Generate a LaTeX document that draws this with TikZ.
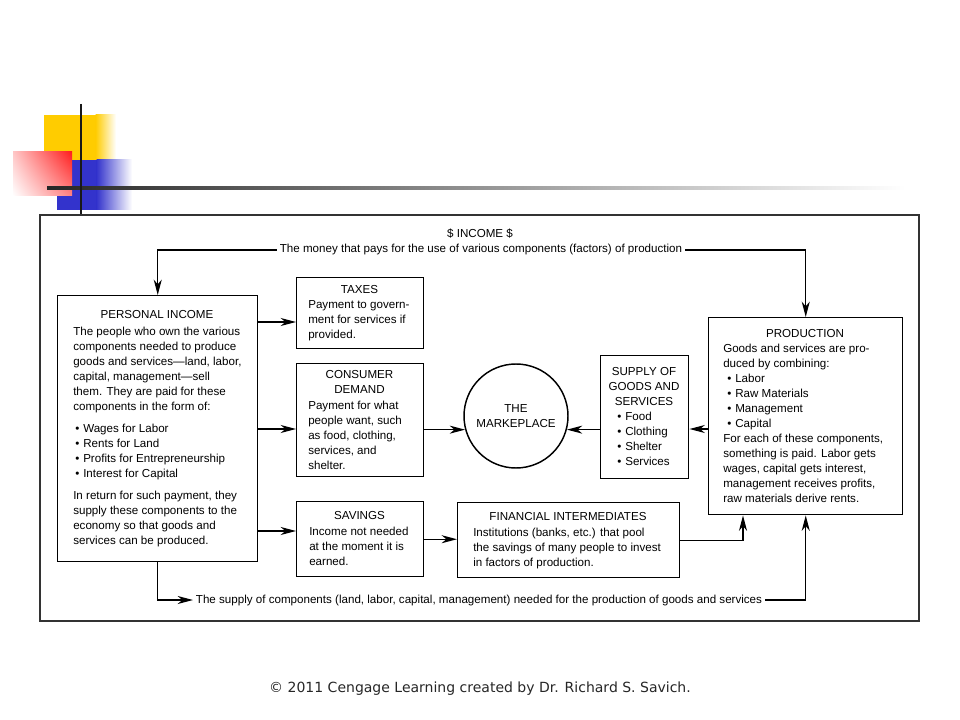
\documentclass[tikz,border=0pt]{standalone}
\usepackage{fontspec}
\setmainfont{Liberation Sans}
\newfontfamily\cpfont{DejaVu Sans}
\usetikzlibrary{arrows.meta,shadings}
\definecolor{yelc}{RGB}{255,204,0}
\definecolor{bluc}{RGB}{51,51,204}
\definecolor{redc}{RGB}{255,30,30}
\newcommand\pibul{\hspace*{1.5pt}\makebox[6pt][l]{•}}
\newcommand\prbul{\hspace*{3pt}\makebox[6pt][l]{•}}
\newcommand\spbul{\makebox[6pt][l]{•}}
\begin{document}
\begin{tikzpicture}[x=0.75pt,y=-0.75pt,
  box/.style={draw=black, line width=1.1pt, rectangle, inner sep=0pt, anchor=north west},
  txt/.style={inner sep=0pt, font=\fontsize{8.7pt}{11.25pt}\selectfont},
  ttl/.style={txt, anchor=base, align=center},
  body/.style={txt, anchor=base west, align=left},
  arr/.style={line width=1.1pt, -{Stealth[length=11.5pt,width=6pt,inset=3.5pt]}},
]
\useasboundingbox (0,0) rectangle (960,720);
% decoration
\fill[yelc] (44,115) rectangle (96,160);
\shade[left color=yelc, right color=white] (95.5,115) rectangle (116,160);
\fill[bluc] (57,160) rectangle (97,210);
\shade[left color=bluc, right color=white] (96.5,160) rectangle (132,210);
\shade[upper right=redc, lower right=redc!55, upper left=redc!25, lower left=white] (13,152) rectangle (72,196);
\shade[left color=black!85, middle color=black!40, right color=white] (47,186.5) rectangle (905,189.5);
\draw[line width=2.2pt, black!90] (81,104) -- (81,214);
% frame
\draw[black!80, line width=1.1pt] (40,215) rectangle (919,621);

% boxes
\node[box, minimum width=150pt, minimum height=199.5pt] (pi) at (57,295) {};
\node[box, minimum width=95.25pt, minimum height=53.25pt] (tax) at (296,277) {};
\node[box, minimum width=95.25pt, minimum height=84.75pt] (cd) at (296,363) {};
\node[box, minimum width=95.25pt, minimum height=56.25pt] (sav) at (296,501) {};
\node[box, minimum width=166.5pt, minimum height=56.25pt] (fi) at (457,502) {};
\node[box, minimum width=66pt, minimum height=92.25pt] (sup) at (600,355) {};
\node[box, minimum width=145.5pt, minimum height=147.75pt] (prod) at (708,317) {};
\node[draw=black, line width=1.1pt, circle, minimum size=78pt, inner sep=0pt, align=center,
      font=\fontsize{8.7pt}{11.25pt}\selectfont] (mkt) at (516,416) {THE\\MARKEPLACE};

% texts (anchor = baseline of the last line)
\node[ttl] (pit) at (157,319) {PERSONAL INCOME};
\node[body] (pib) at (73,544) {The people who own the various\\
components needed to produce\\
goods and services—land, labor,\\
capital, management—sell\\
them. They are paid for these\\
components in the form of:\\[5.25pt]
\pibul Wages for Labor\\
\pibul Rents for Land\\
\pibul Profits for Entrepreneurship\\
\pibul Interest for Capital\\[5.25pt]
In return for such payment, they\\
supply these components to the\\
economy so that goods and\\
services can be produced.};

\node[ttl] (taxt) at (359.5,294) {TAXES};
\node[body] (taxb) at (308,339) {Payment to govern-\\ment for services if\\provided.};

\node[ttl] (cdt) at (359.5,393) {CONSUMER\\DEMAND};
\node[body] (cdb) at (308,469) {Payment for what\\people want, such\\as food, clothing,\\services, and\\shelter.};

\node[ttl] (savt) at (359.5,519) {SAVINGS};
\node[body] (savb) at (309,565) {Income not needed\\at the moment it is\\earned.};

\node[ttl] (fit) at (568,520) {FINANCIAL INTERMEDIATES};
\node[body] (fib) at (473,566) {Institutions (banks, etc.) that pool\\the savings of many people to invest\\in factors of production.};

\node[ttl] (supt) at (644,405) {SUPPLY OF\\GOODS AND\\SERVICES};
\node[body] (supb) at (617,465) {\spbul Food\\\spbul Clothing\\\spbul Shelter\\\spbul Services};

\node[ttl] (prt) at (805,337) {PRODUCTION};
\node[body] (prb) at (723,502) {Goods and services are pro-\\
duced by combining:\\
\prbul Labor\\
\prbul Raw Materials\\
\prbul Management\\
\prbul Capital\\
For each of these components,\\
something is paid. Labor gets\\
wages, capital gets interest,\\
management receives profits,\\
raw materials derive rents.};

\node[ttl] (inc) at (480,238) {\$ INCOME \$};
\node[txt, anchor=base, inner xsep=2pt] (money) at (481,253) {The money that pays for the use of various components (factors) of production};
\node[txt, anchor=base, inner xsep=2pt] (suptxt) at (479,603) {The supply of components (land, labor, capital, management) needed for the production of goods and services};

\node[font=\cpfont\fontsize{10.5pt}{12pt}\selectfont, text=black!85, inner sep=0pt] (copy) at (480,689) {© 2011 Cengage Learning created by Dr. Richard S. Savich.};

% helper coordinates
\coordinate (ty) at (0,322);
\coordinate (cy) at (0,429);
\coordinate (sy) at (0,531);
\coordinate (fx) at (743,0);

% connectors
\draw[arr] (money.west) -| (pi.north);
\draw[arr] (money.east) -| (prod.north);
\draw[arr] (pi.south) |- (suptxt.west);
\draw[arr] (suptxt.east) -| (prod.south);
\draw[arr] (pi.east |- ty) -- (tax.west |- ty);
\draw[arr] (pi.east |- cy) -- (cd.west |- cy);
\draw[arr] (pi.east |- sy) -- (sav.west |- sy);
\draw[arr] (cd.east |- mkt.195) -- (mkt.195);
\draw[arr] (sup.west |- mkt.345) -- (mkt.345);
\draw[arr] (prod.west |- cy) -- (sup.east |- cy);
\draw[arr] (sav.east) -- (fi.west |- sav.east);
\draw[arr] (fi.east) -| (prod.south -| fx);
\end{tikzpicture}
\end{document}
